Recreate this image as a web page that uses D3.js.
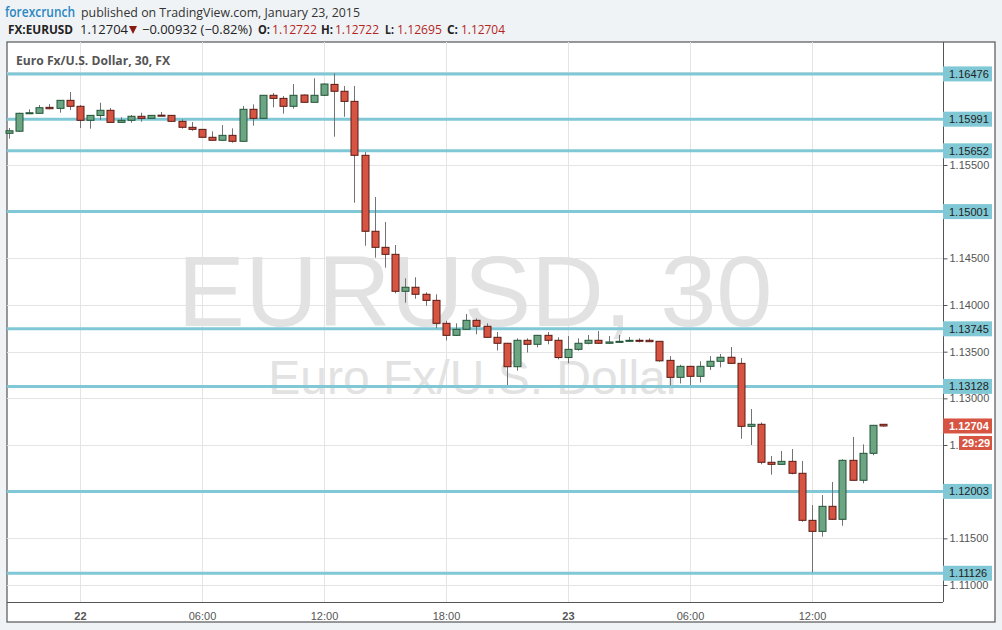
<!DOCTYPE html>
<html><head><meta charset="utf-8">
<script src="https://cdn.jsdelivr.net/npm/d3@7/dist/d3.min.js"></script>
<style>
html,body{margin:0;padding:0;background:#f0f3f6;}
svg{display:block;}
</style></head>
<body>
<svg id="c" width="1002" height="630"></svg>
<script>
// ---------- data ----------
const startTime = Date.UTC(2015,0,21,20,30); // first 30-min bar
const barMinutes = 30;
const opens = [1.15840,1.15862,1.16054,1.16054,1.16118,1.16107,1.16193,1.16129,1.15979,1.16030,
1.16086,1.15957,1.15979,1.16022,1.16000,1.16034,1.16032,1.15968,1.15904,1.15882,
1.15797,1.15765,1.15818,1.15754,1.16097,1.16000,1.16247,1.16214,1.16129,1.16250,
1.16172,1.16247,1.16364,1.16290,1.16182,1.15604,1.14790,1.14618,1.14543,1.14147,
1.14190,1.14115,1.14050,1.13804,1.13675,1.13740,1.13836,1.13772,1.13654,1.13590,
1.13339,1.13622,1.13579,1.13675,1.13622,1.13437,1.13525,1.13590,1.13622,1.13590,
1.13600,1.13611,1.13622,1.13622,1.13611,1.13407,1.13225,1.13343,1.13236,1.13343,
1.13397,1.13440,1.13375,1.12700,1.12722,1.12315,1.12293,1.12325,1.12197,1.11693,
1.11575,1.11843,1.11704,1.12336,1.12122,1.12411,1.12722];
const highs = [1.15896,1.16060,1.16097,1.16143,1.16153,1.16196,1.16282,1.16143,1.16036,1.16167,
1.16111,1.16011,1.16036,1.16060,1.16036,1.16068,1.16036,1.15990,1.15961,1.15886,
1.15861,1.15928,1.15893,1.16132,1.16150,1.16250,1.16271,1.16239,1.16368,1.16255,
1.16429,1.16375,1.16482,1.16346,1.16346,1.15639,1.15157,1.14889,1.14643,1.14286,
1.14297,1.14136,1.14115,1.13832,1.13804,1.13904,1.13857,1.13804,1.13711,1.13595,
1.13643,1.13643,1.13680,1.13711,1.13654,1.13668,1.13643,1.13679,1.13721,1.13668,
1.13679,1.13657,1.13643,1.13643,1.13615,1.13453,1.13360,1.13348,1.13398,1.13453,
1.13475,1.13550,1.13432,1.12886,1.12743,1.12382,1.12436,1.12457,1.12329,1.11857,
1.11964,1.12104,1.12347,1.12586,1.12507,1.12715,1.12722];
const lows = [1.15782,1.15855,1.16046,1.16050,1.16097,1.16060,1.16089,1.15896,1.15889,1.15982,
1.15952,1.15952,1.15953,1.15964,1.15997,1.16025,1.15964,1.15889,1.15867,1.15793,
1.15760,1.15760,1.15739,1.15750,1.15921,1.15996,1.16118,1.16050,1.16103,1.16168,
1.16168,1.16239,1.15803,1.16017,1.15096,1.14635,1.14507,1.14400,1.14125,1.14025,
1.14067,1.13992,1.13750,1.13620,1.13670,1.13735,1.13686,1.13650,1.13512,1.13143,
1.13296,1.13491,1.13547,1.13579,1.13418,1.13375,1.13510,1.13579,1.13585,1.13585,
1.13596,1.13607,1.13600,1.13604,1.13392,1.13140,1.13159,1.13143,1.13170,1.13304,
1.13332,1.13370,1.12567,1.12500,1.12293,1.12182,1.12290,1.12186,1.11678,1.11136,
1.11518,1.11700,1.11635,1.12118,1.12090,1.12390,1.12695];
const closes = [1.15867,1.16054,1.16060,1.16114,1.16103,1.16193,1.16129,1.15979,1.16032,1.16086,
1.15957,1.15979,1.16022,1.16000,1.16032,1.16028,1.15968,1.15904,1.15882,1.15797,
1.15765,1.15818,1.15754,1.16097,1.16000,1.16247,1.16214,1.16129,1.16247,1.16172,
1.16247,1.16368,1.16290,1.16182,1.15604,1.14790,1.14618,1.14543,1.14147,1.14190,
1.14115,1.14050,1.13804,1.13675,1.13740,1.13836,1.13772,1.13654,1.13590,1.13339,
1.13622,1.13579,1.13675,1.13622,1.13437,1.13525,1.13590,1.13622,1.13590,1.13604,
1.13611,1.13622,1.13620,1.13607,1.13402,1.13225,1.13343,1.13236,1.13343,1.13397,
1.13440,1.13375,1.12700,1.12722,1.12315,1.12293,1.12325,1.12197,1.11693,1.11575,
1.11843,1.11704,1.12336,1.12122,1.12411,1.12711,1.12704];
const levels = [1.16476,1.15991,1.15652,1.15001,1.13745,1.13128,1.12003,1.11126];
const yTicks = [1.110,1.115,1.120,1.125,1.130,1.135,1.140,1.145,1.150,1.155,1.160,1.165];
const xTickTimes = [Date.UTC(2015,0,22,0),Date.UTC(2015,0,22,6),Date.UTC(2015,0,22,12),Date.UTC(2015,0,22,18),
                    Date.UTC(2015,0,23,0),Date.UTC(2015,0,23,6),Date.UTC(2015,0,23,12)];
const xTickLabels = ["22","06:00","12:00","18:00","23","06:00","12:00"];
const lastPrice = 1.12704;
const countdown = "29:29";

// ---------- layout ----------
const svg = d3.select("#c");
const L = 7, R = 943, T = 42, B = 602;
const x = d3.scaleUtc()
  .domain([new Date(Date.UTC(2015,0,21,20,24,36)), new Date(Date.UTC(2015,0,23,18,26,36))])
  .range([L, R]);
const y = d3.scaleLinear().domain([1.10818, 1.16818]).range([B, T]);

const bars = opens.map((o,i)=>({t:new Date(startTime + i*barMinutes*60000), o, h:highs[i], l:lows[i], c:closes[i]}));

// frame
svg.append("rect").attr("x",L).attr("y",T).attr("width",995-L).attr("height",622-T)
  .attr("fill","#fff").attr("stroke","#555").attr("stroke-width",1.2);

// header
const hdr = svg.append("g").attr("font-family","'Open Sans', 'DejaVu Sans', sans-serif");
function ht(xp, yp, w, txt, size, fill, weight){
  hdr.append("text").attr("x",xp).attr("y",yp).attr("font-size",size).attr("fill",fill)
    .attr("font-weight",weight||400).attr("textLength",w).attr("lengthAdjust","spacingAndGlyphs").text(txt);
}
ht(5,17,70,"forexcrunch",13.5,"#2a87c2",600);
ht(81,17,279,"published on TradingView.com, January 23, 2015",13.5,"#333");
ht(8,34,65,"FX:EURUSD",12.5,"#222",700);
ht(80,34,48,"1.12704",12.5,"#222");
ht(142,34,110,"\u22120.00932 (\u22120.82%)",12.5,"#222");
const parts = [["O:",258,12,"1.12722",272,45],["H:",321,12,"1.12722",335,44],["L:",385,9,"1.12695",397,45],["C:",447,11,"1.12704",461,44]];
parts.forEach(p=>{
  ht(p[1],34,p[2],p[0],12.5,"#222",700);
  ht(p[4],34,p[5],p[3],12.5,"#b3261e");
});
hdr.append("path").attr("d","M129,26 L137,26 L133,34 Z").attr("fill","#8b1a10");

// grid
const grid = svg.append("g");
grid.selectAll("line.h").data(yTicks).join("line")
  .attr("x1",L).attr("x2",R).attr("y1",d=>Math.round(y(d))+0.5).attr("y2",d=>Math.round(y(d))+0.5)
  .attr("stroke","#e4e4e4");
grid.selectAll("line.v").data(xTickTimes).join("line")
  .attr("y1",T).attr("y2",B).attr("x1",d=>Math.round(x(new Date(d)))+0.5).attr("x2",d=>Math.round(x(new Date(d)))+0.5)
  .attr("stroke","#e4e4e4");

// watermark
const wm = svg.append("g").attr("font-family","'Liberation Sans', Arial, sans-serif").attr("fill","#e2e2e2").attr("text-anchor","middle");
wm.append("text").attr("x",(L+R)/2).attr("y",326).attr("font-size",101).text("EURUSD, 30");
wm.append("text").attr("x",(L+R)/2).attr("y",394).attr("font-size",48).text("Euro Fx/U.S. Dollar");

// title
svg.append("text").attr("x",16).attr("y",65).attr("font-family","'Open Sans', sans-serif")
  .attr("font-size",12.5).attr("font-weight",700).attr("fill","#555")
  .attr("textLength",154).attr("lengthAdjust","spacingAndGlyphs").text("Euro Fx/U.S. Dollar, 30, FX");

// level lines
svg.append("g").selectAll("line").data(levels).join("line")
  .attr("x1",L).attr("x2",R).attr("y1",d=>y(d)).attr("y2",d=>y(d))
  .attr("stroke","#80c8d5").attr("stroke-width",3);

// candles
const bw = 7;
const cg = svg.append("g");
const up = d=>d.c>=d.o;
cg.selectAll("line").data(bars).join("line")
  .attr("x1",d=>Math.round(x(d.t))+0.5).attr("x2",d=>Math.round(x(d.t))+0.5)
  .attr("y1",d=>y(d.h)).attr("y2",d=>y(d.l)).attr("stroke","#737375").attr("stroke-width",1);
cg.selectAll("rect").data(bars).join("rect")
  .attr("x",d=>Math.round(x(d.t))-bw/2+0.5).attr("width",bw)
  .attr("y",d=>y(Math.max(d.o,d.c))).attr("height",d=>Math.max(1,Math.abs(y(d.o)-y(d.c))))
  .attr("fill",d=>up(d)?"#6ba583":"#d75442").attr("stroke",d=>up(d)?"#225437":"#5b1a13").attr("stroke-width",1);

// axes lines
svg.append("line").attr("x1",R+0.5).attr("x2",R+0.5).attr("y1",T).attr("y2",B).attr("stroke","#555");
svg.append("line").attr("x1",L).attr("x2",R).attr("y1",B+0.5).attr("y2",B+0.5).attr("stroke","#555");

// y axis (labels fully hidden behind level boxes are not drawn)
const hidden = v => levels.some(l=>Math.abs(y(l)-y(v))<7);
const ya = svg.append("g").attr("transform",`translate(${R+0.5},0)`)
  .call(d3.axisRight(y).tickValues(yTicks).tickSize(4).tickPadding(2).tickFormat(d=>hidden(d)?"":d3.format(".5f")(d)));
ya.select(".domain").remove();
ya.selectAll("line").attr("stroke","#555");
ya.selectAll("text").attr("font-family","'Liberation Sans', Arial, sans-serif").attr("font-size",11).attr("fill","#555");

// x axis
const xa = svg.append("g").attr("transform",`translate(0,${B})`)
  .call(d3.axisBottom(x).tickValues(xTickTimes.map(d=>new Date(d))).tickSize(0).tickPadding(10)
    .tickFormat((d,i)=>xTickLabels[i]));
xa.select(".domain").remove();
xa.selectAll("text").attr("font-family","'Liberation Sans', Arial, sans-serif").attr("font-size",11).attr("fill","#555")
  .attr("font-weight",(d,i)=>xTickLabels[i].length===2?700:400);

// level labels
const lg = svg.append("g").attr("font-family","'Liberation Sans', Arial, sans-serif").attr("font-size",11);
levels.forEach(v=>{
  lg.append("rect").attr("x",R).attr("y",y(v)-7.5).attr("width",49).attr("height",15).attr("fill","#80c8d5");
  lg.append("text").attr("x",949).attr("y",y(v)+4).attr("fill","#222").text(d3.format(".5f")(v));
});
// last price
lg.append("rect").attr("x",R).attr("y",y(lastPrice)-7.5).attr("width",49).attr("height",15).attr("fill","#d75442");
lg.append("text").attr("x",949).attr("y",y(lastPrice)+4).attr("fill","#fff").attr("font-weight",700).text(d3.format(".5f")(lastPrice));
lg.append("rect").attr("x",959).attr("y",y(lastPrice)+10).attr("width",33).attr("height",14).attr("fill","#d75442");
lg.append("text").attr("x",962).attr("y",y(lastPrice)+21).attr("fill","#fff").attr("font-weight",700).text(countdown);
</script>
</body></html>
